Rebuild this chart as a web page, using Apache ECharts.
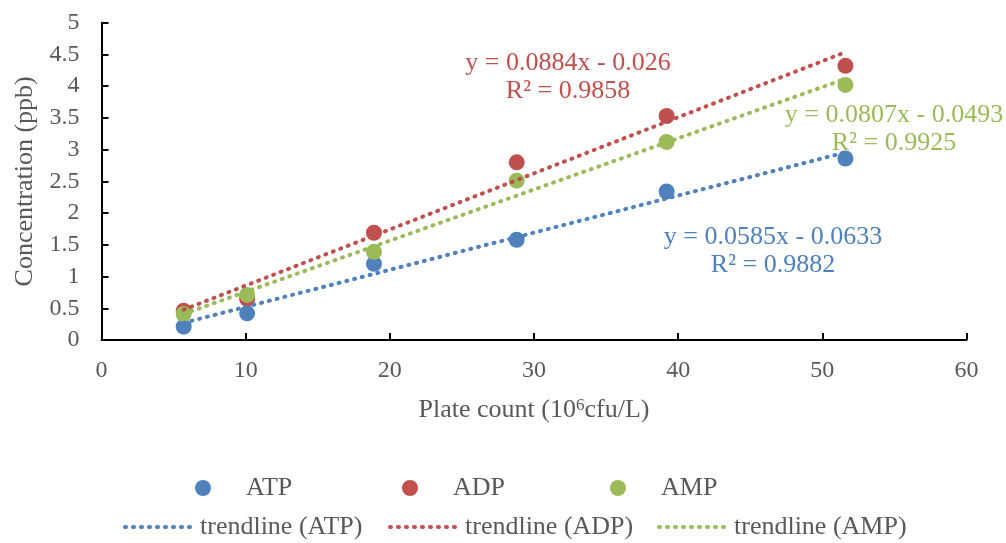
<!DOCTYPE html>
<html>
<head>
<meta charset="utf-8">
<script src="https://cdn.jsdelivr.net/npm/echarts@6/dist/echarts.min.js"></script>
<style>
html,body{margin:0;padding:0;background:#fff;}
#c{width:1006px;height:543px;}
</style>
</head>
<body>
<div id="c"></div>
<script>
// ---- data ----
const plateCount = [5.7, 10.1, 18.9, 28.8, 39.2, 51.6];
const atp = [0.21, 0.42, 1.20, 1.58, 2.34, 2.86];
const adp = [0.46, 0.65, 1.69, 2.80, 3.53, 4.32];
const amp = [0.41, 0.71, 1.39, 2.51, 3.12, 4.02];
const seriesNames = ['ATP', 'ADP', 'AMP'];
const trendNames = ['trendline (ATP)', 'trendline (ADP)', 'trendline (AMP)'];
const slopes = [0.0585, 0.0884, 0.0807];
const intercepts = [-0.0633, -0.026, -0.0493];
const rSquared = ['0.9882', '0.9858', '0.9925'];
const xTicks = [0, 10, 20, 30, 40, 50, 60];
const yTicks = [0, 0.5, 1, 1.5, 2, 2.5, 3, 3.5, 4, 4.5, 5];

const colors = ['#4F81BD', '#C0504D', '#9BBB59'];
const font = 'Liberation Serif, Times New Roman, serif';
const grey = '#595959';

const values = [atp, adp, amp];
const xMin = Math.min(...plateCount), xMax = Math.max(...plateCount);

function fmtEq(i) {
  const b = intercepts[i];
  const sign = b < 0 ? ' - ' : ' + ';
  return 'y = ' + slopes[i] + 'x' + sign + Math.abs(b) + '\nR² = ' + rSquared[i];
}

const dotStyle = { width: 4, type: [1, 7], cap: 'round' };

const scatterSeries = seriesNames.map((n, i) => ({
  name: n,
  type: 'scatter',
  symbol: 'circle',
  symbolSize: 16,
  itemStyle: { color: colors[i], opacity: 1 },
  data: plateCount.map((x, k) => [x, values[i][k]]),
  z: 2
}));

const trendSeries = trendNames.map((n, i) => ({
  name: n,
  type: 'line',
  symbol: 'none',
  silent: true,
  lineStyle: Object.assign({ color: colors[i] }, dotStyle),
  itemStyle: { color: colors[i] },
  data: [[xMin, slopes[i] * xMin + intercepts[i]], [xMax, slopes[i] * xMax + intercepts[i]]],
  z: 3
}));

// layout of annotations / legend (pixels)
const eqPos = [[773, 251], [568, 77], [894, 129]];
const legendRow1Left = [195, 402, 610];
const legendRow2Left = [123, 388, 657];

const legends = [];
seriesNames.forEach((n, i) => legends.push({
  data: [n],
  left: legendRow1Left[i], top: 475,
  padding: 0,
  itemWidth: 16, itemHeight: 16,
  icon: 'circle',
  formatter: s => '{t|' + s + '}',
  textStyle: { rich: { t: { fontSize: 26, color: grey, fontFamily: font, padding: [0, 0, 0, 30] } } },
  selectedMode: false
}));
trendNames.forEach((n, i) => legends.push({
  data: [n],
  left: legendRow2Left[i], top: 514,
  padding: 0,
  itemWidth: 70, itemHeight: 14,
  itemStyle: { opacity: 0, borderWidth: 0 },
  lineStyle: Object.assign({ color: colors[i] }, dotStyle),
  textStyle: { fontSize: 26, color: grey, fontFamily: font },
  selectedMode: false
}));

const chart = echarts.init(document.getElementById('c'), null, { renderer: 'canvas' });
chart.setOption({
  animation: false,
  backgroundColor: '#ffffff',
  textStyle: { fontFamily: font },
  grid: { left: 101.5, right: 39.5, top: 22.7, bottom: 203, containLabel: false },
  xAxis: {
    type: 'value',
    min: xTicks[0], max: xTicks[xTicks.length - 1], interval: xTicks[1] - xTicks[0],
    splitLine: { show: false },
    axisLine: { onZero: false, lineStyle: { color: '#000', width: 2 } },
    axisTick: { inside: true, length: 7, lineStyle: { color: '#000', width: 2 } },
    axisLabel: { color: grey, fontSize: 24, fontFamily: font, margin: 19 },
    name: '{a|Plate count (10}{s|6}{a|cfu/L)}',
    nameLocation: 'middle',
    nameGap: 57,
    nameTextStyle: {
      rich: {
        a: { fontSize: 26, color: grey, fontFamily: font, verticalAlign: 'bottom' },
        s: { fontSize: 17, color: grey, fontFamily: font, verticalAlign: 'top' }
      }
    }
  },
  yAxis: {
    type: 'value',
    min: yTicks[0], max: yTicks[yTicks.length - 1], interval: yTicks[1] - yTicks[0],
    splitLine: { show: false },
    axisLine: { lineStyle: { color: '#000', width: 2 } },
    axisTick: { inside: true, length: 7, lineStyle: { color: '#000', width: 2 } },
    axisLabel: { color: grey, fontSize: 24, fontFamily: font, margin: 22 },
    name: 'Concentration (ppb)',
    nameLocation: 'middle',
    nameGap: 61,
    nameTextStyle: { fontSize: 26, color: grey, fontFamily: font }
  },
  legend: legends,
  graphic: eqPos.map((p, i) => ({
    type: 'text',
    x: p[0], y: p[1],
    z: 10,
    style: {
      text: fmtEq(i),
      fill: colors[i],
      font: '26px ' + font,
      align: 'center',
      verticalAlign: 'middle',
      lineHeight: 28
    }
  })),
  series: scatterSeries.concat(trendSeries)
});
</script>
</body>
</html>
